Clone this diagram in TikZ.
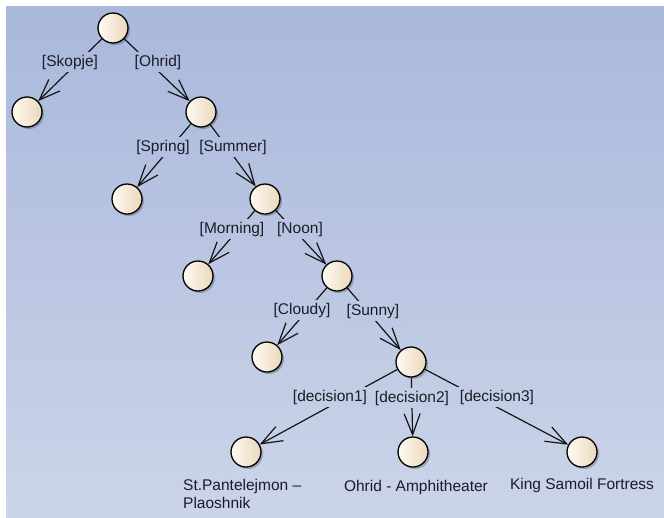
\documentclass[tikz,border=0pt]{standalone}
\usepackage{fontspec}
\usetikzlibrary{arrows.meta,shadows}
\newfontfamily\labfont{Liberation Sans}
\definecolor{bgtop}{HTML}{A9B8DB}
\definecolor{bgbot}{HTML}{CBD4E9}
\definecolor{creamL}{HTML}{FFFAF1}
\definecolor{creamR}{HTML}{EAD8BC}
\definecolor{txt}{HTML}{1C1C28}
\begin{document}
\begin{tikzpicture}[x=1pt,y=-1pt,
  statenode/.style={circle, minimum size=30pt, inner sep=0pt, draw=black, line width=1.3pt,
    left color=creamL, right color=creamR,
    drop shadow={shadow xshift=2pt, shadow yshift=-2pt, opacity=0.22, fill=black}},
  guard/.style={font=\labfont\fontsize{15.5}{18.5}\selectfont, text=txt, inner sep=2.5pt},
  caption/.style={font=\labfont\fontsize{15.5}{18.5}\selectfont, text=txt, inner sep=0pt},
  flow/.style={draw=black!92, line width=1.2pt, -{Straight Barb[length=21pt,width=16pt]}}
]
\useasboundingbox (0,0) rectangle (664,517);
\fill[white] (0,0) rectangle (664,517);
\fill[top color=bgtop, bottom color=bgbot] (6,6) rectangle (664,517);

% states
\node[statenode] (R) at (113,28) {};
\node[statenode] (A) at (27,112) {};
\node[statenode] (B) at (201,112) {};
\node[statenode] (C) at (127,199) {};
\node[statenode] (D) at (265,199) {};
\node[statenode] (E) at (198,276) {};
\node[statenode] (F) at (337,276) {};
\node[statenode] (G) at (267,357) {};
\node[statenode] (H) at (411,362) {};
\node[statenode] (I) at (246,452) {};
\node[statenode] (J) at (413,452) {};
\node[statenode] (K) at (582,452) {};

% transitions
\draw[flow] (R) -- (A);
\draw[flow] (R) -- (B);
\draw[flow] (B) -- (C);
\draw[flow] (B) -- (D);
\draw[flow] (D) -- (E);
\draw[flow] (D) -- (F);
\draw[flow] (F) -- (G);
\draw[flow] (F) -- (H);
\draw[flow] (H) -- (I);
\draw[flow] (H) -- (J);
\draw[flow] (H) -- (K);

% guards
\node[guard, fill=bgbot!11!bgtop] (lSk) at (70,62) {[Skopje]};
\node[guard, fill=bgbot!11!bgtop] (lOh) at (158,62) {[Ohrid]};
\node[guard, fill=bgbot!28!bgtop] (lSp) at (163,147) {[Spring]};
\node[guard, fill=bgbot!28!bgtop] (lSu) at (233,147) {[Summer]};
\node[guard, fill=bgbot!44!bgtop] (lMo) at (232,229) {[Morning]};
\node[guard, fill=bgbot!44!bgtop] (lNo) at (300,229) {[Noon]};
\node[guard, fill=bgbot!59!bgtop] (lCl) at (302,310) {[Cloudy]};
\node[guard, fill=bgbot!59!bgtop] (lSn) at (373,311) {[Sunny]};
\node[guard, fill=bgbot!77!bgtop] (ld1) at (330,397) {[decision1]};
\node[guard, fill=bgbot!77!bgtop] (ld2) at (412,398) {[decision2]};
\node[guard, fill=bgbot!77!bgtop] (ld3) at (497,397) {[decision3]};

% final labels
\node[caption, anchor=north west, align=left] (capI) at (183,479) {St.Pantelejmon –\\Plaoshnik};
\node[caption, anchor=base] (capJ) at (416,491.5) {Ohrid - Amphitheater};
\node[caption, anchor=base] (capK) at (582,489.5) {King Samoil Fortress};
\end{tikzpicture}
\end{document}
